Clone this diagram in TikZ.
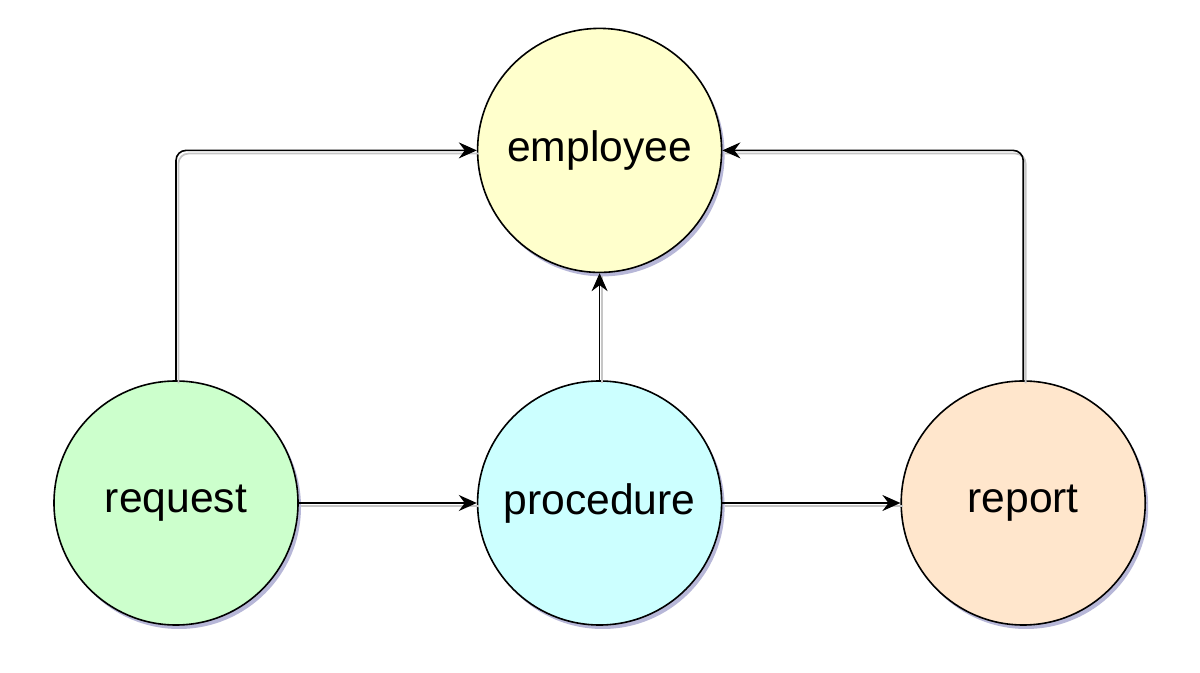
\documentclass[tikz,border=0pt]{standalone}
\usepackage{fontspec}
\setmainfont{Liberation Sans}
\usetikzlibrary{arrows.meta,positioning,shadows}
\definecolor{reqgreen}{RGB}{204,255,204}
\definecolor{proccyan}{RGB}{204,255,255}
\definecolor{reporange}{RGB}{255,230,204}
\definecolor{empyellow}{RGB}{255,255,204}
\tikzset{
    flowcircle/.style={draw, circle, line width=0.8pt, minimum size=122pt,
        inner sep=0pt, font=\fontsize{21.3}{25}\selectfont,
        drop shadow={shadow xshift=1.5pt, shadow yshift=-2pt, fill=black!55!blue!40, opacity=0.7}},
    flowarrow/.style={-{Stealth[length=9pt,width=8pt,inset=3pt]}, line width=0.8pt, rounded corners=5pt,
        preaction={draw=gray!45, -, line width=0.9pt, transform canvas={shift={(1.2pt,-1.6pt)}}}}
}

\begin{document}
\begin{tikzpicture}[node distance=89pt]
\useasboundingbox (0,0) rectangle (600pt,-336.5pt);
\node[flowcircle, fill=reqgreen] (request) at (88pt,-251.5pt) {request};
\node[flowcircle, right=of request, fill=proccyan] (procedure) {procedure};
\node[flowcircle, right=of procedure, fill=reporange] (report) {report};
\node[flowcircle, above=53.5pt of procedure, fill=empyellow] (employee) {employee};
\draw[flowarrow] (request) -- (procedure);
\draw[flowarrow] (procedure) -- (report);
\draw[flowarrow] (procedure) -- (employee);
\draw[flowarrow] (request) |- (employee);
\draw[flowarrow] (report) |- (employee);
\end{tikzpicture}
\end{document}
